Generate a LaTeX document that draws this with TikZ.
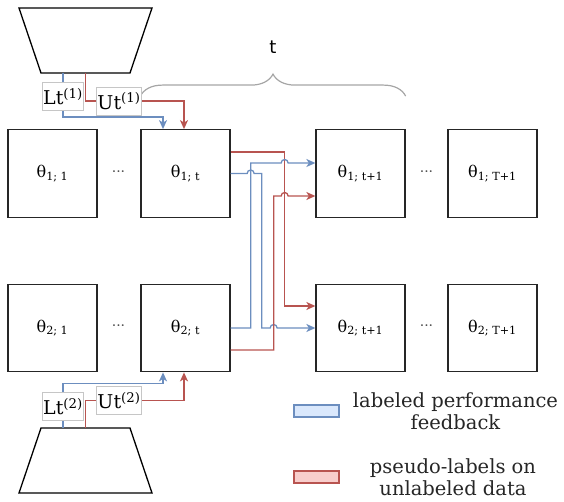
\documentclass[tikz,border=0pt]{standalone}
\usepackage{fontspec}
\setmainfont{DejaVu Serif}
\newfontfamily\tagsans{DejaVu Sans}
\usetikzlibrary{shapes,arrows,arrows.meta,positioning,calc,decorations.pathreplacing}
\definecolor{fbblue}{HTML}{6C8EBF}
\definecolor{fbred}{HTML}{B85450}
\definecolor{fillblue}{HTML}{DAE8FC}
\definecolor{fillred}{HTML}{F8CECC}
\tikzstyle{param} = [draw=black!85, line width=1.3pt, rectangle, minimum width=89pt, minimum height=87.5pt, font=\fontsize{16}{19}\selectfont]
\tikzstyle{dotsep} = [text=black!70, font=\fontsize{14}{17}\selectfont]
\tikzstyle{tag} = [draw=gray!45, fill=white, line width=0.8pt, inner xsep=1pt, minimum height=28pt, font=\fontsize{19}{22}\selectfont]
\tikzstyle{blueline} = [draw=fbblue, line width=1.3pt]
\tikzstyle{redline} = [draw=fbred, line width=1.3pt]
\tikzstyle{legbox} = [rectangle, line width=1.3pt, minimum width=45pt, minimum height=12pt]
\tikzstyle{legtext} = [align=center, text=black!85, font=\fontsize{19.5}{22}\selectfont]

\begin{document}
\begin{tikzpicture}[x=1pt, y=1pt, node distance=133pt, >={Stealth[length=9pt, width=8pt, inset=2.5pt]}]
    \useasboundingbox (0,0) rectangle (564,501);
    % Encoders
    \draw [line width=1.3pt] (19,493) -- (152,493) -- (130,428) -- (41,428) -- cycle;
    \draw [line width=1.3pt] (41,73) -- (130,73) -- (152,8) -- (19,8) -- cycle;
    \coordinate (enc1) at (85.5,428);
    \coordinate (enc2) at (85.5,73);

    % Parameters
    \node [param] (p11) at (52.5,327.5) {θ\textsubscript{1; 1}};
    \node [param, right of=p11] (p1t) {θ\textsubscript{1; t}};
    \node [param, right of=p1t, node distance=175pt] (p1n) {θ\textsubscript{1; t+1}};
    \node [param, right of=p1n, node distance=132pt] (p1T) {θ\textsubscript{1; T+1}};
    \node [param, below of=p11, node distance=154.5pt] (p21) {θ\textsubscript{2; 1}};
    \node [param, below of=p1t, node distance=154.5pt] (p2t) {θ\textsubscript{2; t}};
    \node [param, below of=p1n, node distance=154.5pt] (p2n) {θ\textsubscript{2; t+1}};
    \node [param, below of=p1T, node distance=154.5pt] (p2T) {θ\textsubscript{2; T+1}};
    \node [dotsep, right of=p11, node distance=66pt] (d11) {···};
    \node [dotsep, right of=p1n, node distance=66pt] (d1n) {···};
    \node [dotsep, right of=p21, node distance=66pt] (d21) {···};
    \node [dotsep, right of=p2n, node distance=66pt] (d2n) {···};

    % Brace
    \draw [draw=gray!70, line width=1.2pt, decorate, decoration={brace, amplitude=22pt}]
        ([yshift=33pt]p1t.north west) -- node [midway, yshift=49pt, font=\tagsans\fontsize{18}{20}\selectfont] (tlen) {t}
        ([yshift=33pt]p1n.north east);

    % Feedback from encoders
    \draw [blueline, ->] ([xshift=-22.5pt]enc1) |- node [tag, pos=0.27] (lt1) {Lt\textsuperscript{(1)}}
        ([xshift=-22.5pt, yshift=12pt]p1t.north) -- ([xshift=-22.5pt]p1t.north);
    \draw [redline, ->] (enc1) |- node [tag, pos=0.67] (ut1) {Ut\textsuperscript{(1)}}
        ([xshift=-1.5pt, yshift=28pt]p1t.north) -- ([xshift=-1.5pt]p1t.north);
    \draw [blueline, ->] ([xshift=-22.5pt]enc2) |- node [tag, pos=0.24] (lt2) {Lt\textsuperscript{(2)}}
        ([xshift=-22.5pt, yshift=-11pt]p2t.south) -- ([xshift=-22.5pt]p2t.south);
    \draw [redline, ->] (enc2) |- node [tag, pos=0.67] (ut2) {Ut\textsuperscript{(2)}}
        ([xshift=-1.5pt, yshift=-28pt]p2t.south) -- ([xshift=-1.5pt]p2t.south);

    % Connections
    \draw [redline, ->] ([yshift=21.5pt]p1t.east) -| ($(p2t.east)+(54,22)$) -- ([yshift=22pt]p2n.west);
    \draw [blueline, ->] (p1t.east) -- ++(16.5,0) arc (180:0:3.5) -| ($(p2t.east)+(31,0)$)
        -- ++(8.5,0) arc (180:0:3.5) -- (p2n.west);
    \draw [blueline, ->] (p2t.east) -| ($(p1t.east)+(20,10.5)$) -- ++(30.5,0) arc (180:0:3.5)
        -- ([yshift=10.5pt]p1n.west);
    \draw [redline, ->] ([yshift=-22pt]p2t.east) -| ($(p1t.east)+(43,-22.5)$) -- ++(7.5,0) arc (180:0:3.5)
        -- ([yshift=-22.5pt]p1n.west);

    % Legend
    \node [legbox, draw=fbblue, fill=fillblue] (legL) at (316.5,90) {};
    \node [legtext, right of=legL, node distance=139pt] (txtL) {labeled performance\\feedback};
    \node [legbox, draw=fbred, fill=fillred, below of=legL, node distance=66pt] (legU) {};
    \node [legtext, right of=legU, node distance=136.5pt] (txtU) {pseudo-labels on\\unlabeled data};
\end{tikzpicture}
\end{document}
